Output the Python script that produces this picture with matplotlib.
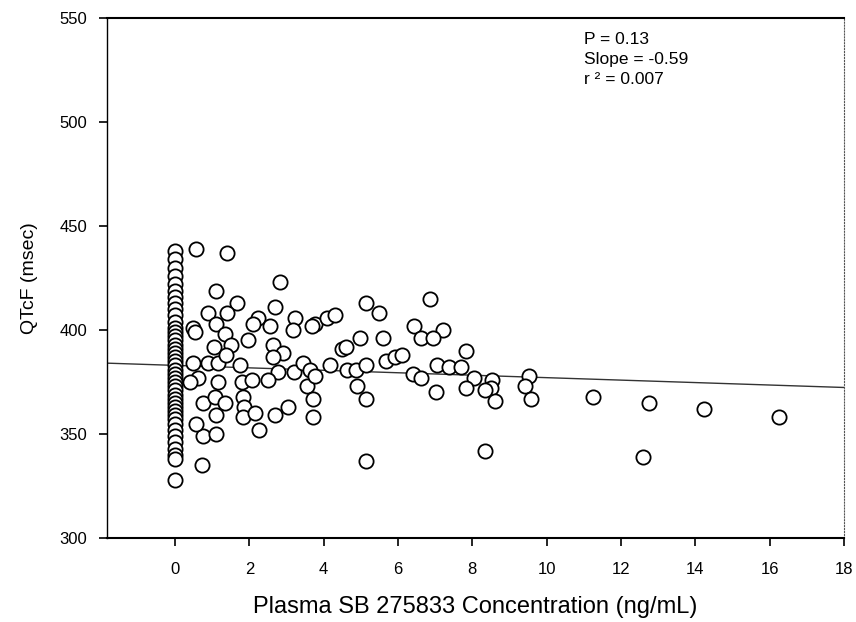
import matplotlib.pyplot as plt
import numpy as np

plt.rcParams['font.family'] = ['Liberation Sans', 'DejaVu Sans']

# placebo / zero-concentration column (x = 0)
zero_qtcf = [438, 434, 430, 426, 422, 419, 416, 413, 410, 407, 404, 401, 399,
             397, 395, 393, 391, 389, 387, 385, 383, 381, 379, 377, 375, 373,
             371, 369, 367, 365, 363, 361, 359, 357, 355, 352, 349, 346, 343,
             340, 338, 328]

# dosed subjects: concentration (ng/mL) and QTcF (msec)
conc = [0.56, 1.40, 1.10, 2.82, 1.66, 0.89, 1.40, 2.68, 3.22, 3.76, 4.08, 4.30,
        5.13, 5.48, 2.23, 2.10, 1.10, 0.48, 6.87, 6.44, 7.20, 6.63, 6.95, 5.60,
        7.84, 5.69, 5.93, 6.12, 6.40, 6.63, 7.06, 7.38, 7.70, 8.05, 8.54, 8.50,
        8.35, 7.84, 8.60, 9.53, 9.42, 9.58, 7.03, 11.25, 12.75, 14.23, 16.24,
        12.60, 5.15, 8.33, 0.73, 2.25, 0.75, 1.10,
        0.54, 1.05, 1.34, 1.50, 1.96, 0.48, 0.89, 1.15, 1.37, 0.62, 0.40, 1.15,
        0.75, 1.07, 1.34, 1.10, 0.56, 1.74, 1.80, 2.07, 1.83, 1.85, 1.83, 2.15,
        2.63, 2.90, 2.63, 2.77, 2.50, 2.68, 3.03, 3.20, 3.44, 3.62, 3.54, 3.70,
        3.70, 3.76, 4.16, 4.64, 4.86, 5.15, 4.89, 5.15, 4.97, 4.50, 4.60, 3.68,
        3.17, 2.55]
qtcf = [439, 437, 419, 423, 413, 408, 408, 411, 406, 403, 406, 407,
        413, 408, 406, 403, 403, 401, 415, 402, 400, 396, 396, 396,
        390, 385, 387, 388, 379, 377, 383, 382, 382, 377, 376, 372,
        371, 372, 366, 378, 373, 367, 370, 368, 365, 362, 358,
        339, 337, 342, 335, 352, 349, 350,
        399, 392, 398, 393, 395, 384, 384, 384, 388, 377, 375, 375,
        365, 368, 365, 359, 355, 383, 375, 376, 368, 363, 358, 360,
        393, 389, 387, 380, 376, 359, 363, 380, 384, 381, 373, 367,
        358, 378, 383, 381, 381, 383, 373, 367, 396, 391, 392, 402,
        400, 402]

# regression fit
intercept = 383.0
slope = -0.59
stats_lines = ["P = 0.13", "Slope = -0.59", "r ² = 0.007"]

fig = plt.figure(figsize=(8.56, 6.22), dpi=100)
ax = fig.add_axes([0.125, 0.135, 0.861, 0.836])

xlim = (-1.83, 18)
xfit = np.array(xlim)
ax.plot(xfit, intercept + slope * xfit, color='#333333', lw=1.0, zorder=1)

ax.scatter(np.zeros(len(zero_qtcf)), zero_qtcf, s=105, facecolors='white',
           edgecolors='black', linewidths=1.3, zorder=2)
ax.scatter(conc, qtcf, s=105, facecolors='white', edgecolors='black',
           linewidths=1.3, zorder=2)

ax.set_xlim(*xlim)
ax.set_ylim(300, 550)
ax.set_xticks(np.arange(0, 19, 2))
ax.set_yticks(np.arange(300, 551, 50))
ax.tick_params(direction='out', length=6, width=1.2, labelsize=12, pad=8)
ax.tick_params(axis='x', pad=11)

for side in ['top', 'bottom', 'left']:
    ax.spines[side].set_linewidth(1.5)
    ax.spines[side].set_color('black')
ax.spines['left'].set_linewidth(1.0)
ax.spines['right'].set_linestyle(':')
ax.spines['right'].set_color('#555555')

ax.set_xlabel("Plasma SB 275833 Concentration (ng/mL)", fontsize=17, labelpad=14)
ax.set_ylabel("QTcF (msec)", fontsize=14, labelpad=16)

for i, line in enumerate(stats_lines):
    ax.text(0.647, 0.958 - i * 0.0385, line, transform=ax.transAxes,
            fontsize=12.5, va='center', ha='left')

fig.savefig("out.png", dpi=100)
